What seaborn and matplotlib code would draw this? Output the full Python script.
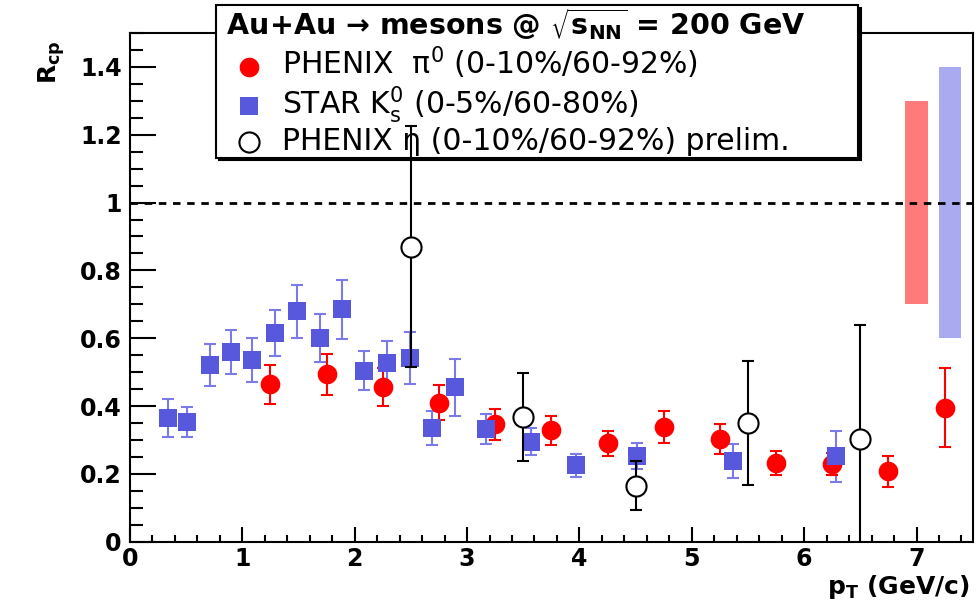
import matplotlib
matplotlib.use("Agg")
import matplotlib.pyplot as plt
import seaborn as sns
import pandas as pd
from matplotlib.ticker import MultipleLocator, FuncFormatter

# PHENIX pi0 (0-10%/60-92%)
pi0_pt = [1.25, 1.75, 2.25, 2.75, 3.25, 3.75, 4.25, 4.75, 5.25, 5.75, 6.25, 6.75, 7.25]
pi0_rcp = [0.464, 0.494, 0.455, 0.410, 0.346, 0.329, 0.290, 0.338, 0.303, 0.232, 0.229, 0.207, 0.395]
pi0_err = [0.058, 0.060, 0.056, 0.051, 0.045, 0.043, 0.037, 0.046, 0.044, 0.035, 0.032, 0.045, 0.117]

# STAR K0s (0-5%/60-80%)
k0_pt = [0.34, 0.51, 0.71, 0.90, 1.09, 1.29, 1.49, 1.69, 1.89, 2.08,
         2.29, 2.49, 2.69, 2.89, 3.17, 3.57, 3.97, 4.51, 5.37, 6.28]
k0_rcp = [0.366, 0.353, 0.521, 0.559, 0.536, 0.615, 0.679, 0.601, 0.685, 0.504,
          0.527, 0.541, 0.336, 0.456, 0.333, 0.295, 0.226, 0.252, 0.239, 0.252]
k0_err = [0.056, 0.045, 0.062, 0.065, 0.066, 0.068, 0.079, 0.071, 0.087, 0.058,
          0.064, 0.077, 0.050, 0.084, 0.045, 0.040, 0.034, 0.038, 0.050, 0.075]

# PHENIX eta prelim.
eta_pt = [2.5, 3.5, 4.5, 5.5, 6.5]
eta_rcp = [0.870, 0.368, 0.165, 0.351, 0.303]
eta_err = [0.355, 0.129, 0.073, 0.183, 0.335]

# normalisation bands (pi0 red, K0s blue)
band_x = [7.0, 7.3]
band_lo = [0.7, 0.6]
band_hi = [1.3, 1.4]
band_colors = ["#ff7b7b", "#aaaaf0"]

red = "#ff0000"
blue = "#5858dc"
blue_err = "#7a7ae8"

sns.set_style("white")
plt.rcParams["font.family"] = ["DejaVu Sans"]
plt.rcParams["mathtext.fontset"] = "dejavusans"
plt.rcParams["text.color"] = "black"
plt.rcParams["axes.labelcolor"] = "black"
plt.rcParams["xtick.color"] = "black"
plt.rcParams["ytick.color"] = "black"

fig = plt.figure(figsize=(9.8, 6.04), dpi=100)
ax = fig.add_axes([130 / 980, 62.3 / 604, 842.7 / 980, 508.7 / 604])

pi0 = pd.DataFrame({"pt": pi0_pt, "rcp": pi0_rcp})
k0 = pd.DataFrame({"pt": k0_pt, "rcp": k0_rcp})
eta = pd.DataFrame({"pt": eta_pt, "rcp": eta_rcp})

# bands
for x, lo, hi, c in zip(band_x, band_lo, band_hi, band_colors):
    ax.bar(x, hi - lo, bottom=lo, width=0.2, color=c, edgecolor="none", zorder=1)

ax.axhline(1.0, color="black", lw=2, ls=(0, (2.7, 2.4)), zorder=3)

# error bars
ax.errorbar(k0_pt, k0_rcp, yerr=k0_err, fmt="none", ecolor=blue_err, elinewidth=1.5,
            capsize=4, capthick=1.5, zorder=2)
ax.errorbar(pi0_pt, pi0_rcp, yerr=pi0_err, fmt="none", ecolor=red, elinewidth=1.5,
            capsize=4, capthick=1.5, zorder=2)
ax.errorbar(eta_pt, eta_rcp, yerr=eta_err, fmt="none", ecolor="black", elinewidth=1.5,
            capsize=4, capthick=1.5, zorder=6)

# markers
sns.scatterplot(data=pi0, x="pt", y="rcp", ax=ax, marker="o", s=200, color=red,
                edgecolor=red, linewidth=0, zorder=4,
                label=r"PHENIX  π$^0$ (0-10%/60-92%)")
sns.scatterplot(data=k0, x="pt", y="rcp", ax=ax, marker="s", s=150, color=blue,
                edgecolor=blue, linewidth=0, zorder=4,
                label=r"STAR $\mathrm{K}^0_\mathrm{s}$ (0-5%/60-80%)")
sns.scatterplot(data=eta, x="pt", y="rcp", ax=ax, marker="o", s=210, color="white",
                edgecolor="black", linewidth=1.5, zorder=7,
                label="PHENIX η (0-10%/60-92%) prelim.")

ax.set_xlim(0, 7.5)
ax.set_ylim(0, 1.5)

ax.xaxis.set_major_locator(MultipleLocator(1))
ax.xaxis.set_minor_locator(MultipleLocator(0.2))
ax.yaxis.set_major_locator(MultipleLocator(0.2))
ax.yaxis.set_minor_locator(MultipleLocator(0.05))
fmt = FuncFormatter(lambda v, p: "%g" % round(v, 2))
ax.xaxis.set_major_formatter(fmt)
ax.yaxis.set_major_formatter(fmt)

ax.tick_params(axis="y", which="major", direction="in", length=19, width=1.5,
               labelsize=17, pad=6, left=True, right=False)
ax.tick_params(axis="y", which="minor", direction="in", length=9.5, width=1.5,
               left=True, right=False)
ax.tick_params(axis="x", which="major", direction="in", length=11, width=1.5,
               labelsize=17, pad=4, bottom=True, top=False)
ax.tick_params(axis="x", which="minor", direction="in", length=5, width=1.5,
               bottom=True, top=False)
for lab in ax.get_xticklabels() + ax.get_yticklabels():
    lab.set_fontweight("bold")

for sp in ax.spines.values():
    sp.set_color("black")
    sp.set_linewidth(1.5)

ax.set_xlabel(r"p$_\mathbf{T}$ (GeV/c)", fontsize=18, fontweight="bold", loc="right",
              va="bottom")
ax.xaxis.set_label_coords(0.997, -0.1175)
ax.set_ylabel(r"R$_\mathbf{cp}$", fontsize=18, fontweight="bold", loc="top")
ax.yaxis.set_label_coords(-0.075, 0.986)

leg = ax.legend(loc="upper left",
                bbox_to_anchor=(216 / 980, 1 - 5 / 604, 642 / 980, 0.0),
                bbox_transform=fig.transFigure, mode="expand", borderaxespad=0,
                frameon=True, fancybox=False, shadow={"color": "black", "alpha": 1},
                title=r" Au+Au → mesons @ $\sqrt{\mathbf{s}_\mathbf{NN}}$ = 200 GeV",
                title_fontproperties={"weight": "bold", "size": 20.5},
                alignment="left", fontsize=21.5, labelspacing=0.08,
                handlelength=2.1, handletextpad=0.05, borderpad=0.05,
                framealpha=1, edgecolor="black")
leg.get_frame().set_linewidth(1.5)
leg.set_zorder(5)

fig.savefig("out.png", dpi=100)
